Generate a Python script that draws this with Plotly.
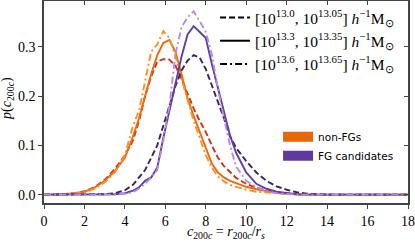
import plotly.graph_objects as go

c200 = [0, 0.5, 1, 1.5, 2, 2.5, 3, 3.5, 4, 4.4, 4.7, 5.0, 5.3, 5.6, 5.9, 6.2, 6.5, 6.8, 7.1, 7.4,
        7.7, 8.0, 8.3, 8.6, 8.9, 9.2, 9.5, 10, 10.5, 11, 11.5, 12, 12.5, 13, 14, 15, 16, 17, 18]

nonfg_lo = [0, 0, 0.001, 0.003, 0.007, 0.015, 0.03, 0.052, 0.08, 0.11, 0.15, 0.2, 0.24, 0.27, 0.275, 0.274, 0.262, 0.235, 0.205, 0.175,
            0.15, 0.127, 0.1, 0.075, 0.058, 0.045, 0.034, 0.022, 0.014, 0.009, 0.005, 0.003, 0.001, 0, 0, 0, 0, 0, 0]
nonfg_mid = [0, 0, 0.001, 0.003, 0.006, 0.014, 0.028, 0.048, 0.075, 0.118, 0.155, 0.2, 0.245, 0.283, 0.308, 0.314, 0.29, 0.245, 0.195, 0.16,
             0.127, 0.092, 0.063, 0.045, 0.035, 0.028, 0.023, 0.016, 0.011, 0.007, 0.004, 0.002, 0.001, 0, 0, 0, 0, 0, 0]
nonfg_hi = [0, 0, 0.001, 0.002, 0.005, 0.012, 0.025, 0.045, 0.08, 0.14, 0.17, 0.23, 0.29, 0.305, 0.332, 0.318, 0.28, 0.235, 0.19, 0.15,
            0.115, 0.08, 0.055, 0.037, 0.027, 0.02, 0.016, 0.01, 0.006, 0.004, 0.002, 0.001, 0, 0, 0, 0, 0, 0, 0]
fg_lo = [0, 0, 0, 0, 0, 0, 0.001, 0.003, 0.009, 0.02, 0.035, 0.05, 0.075, 0.1, 0.14, 0.18, 0.22, 0.252, 0.272, 0.283,
         0.278, 0.255, 0.222, 0.19, 0.155, 0.118, 0.095, 0.068, 0.045, 0.028, 0.017, 0.01, 0.005, 0.002, 0, 0, 0, 0, 0]
fg_mid = [0, 0, 0, 0, 0, 0, 0, 0.001, 0.003, 0.008, 0.015, 0.028, 0.035, 0.055, 0.115, 0.17, 0.225, 0.28, 0.325, 0.342,
          0.33, 0.318, 0.265, 0.215, 0.165, 0.12, 0.085, 0.045, 0.022, 0.012, 0.006, 0.003, 0.001, 0, 0, 0, 0, 0, 0]
fg_hi = [0, 0, 0, 0, 0, 0, 0, 0, 0.002, 0.005, 0.012, 0.022, 0.035, 0.05, 0.11, 0.18, 0.285, 0.34, 0.36, 0.372,
         0.352, 0.33, 0.285, 0.215, 0.155, 0.1, 0.057, 0.028, 0.015, 0.007, 0.003, 0.001, 0, 0, 0, 0, 0, 0, 0]

mass_labels = [
    "[10<sup>13.0</sup>, 10<sup>13.05</sup>] <i>h</i><sup>−1</sup>M<sub>⊙</sub>",
    "[10<sup>13.3</sup>, 10<sup>13.35</sup>] <i>h</i><sup>−1</sup>M<sub>⊙</sub>",
    "[10<sup>13.6</sup>, 10<sup>13.65</sup>] <i>h</i><sup>−1</sup>M<sub>⊙</sub>",
]
group_labels = ["non-FGs", "FG candidates"]
group_colors = ["#e8650a", "#5f3a9e"]

x_ticks = [0, 2, 4, 6, 8, 10, 12, 14, 16, 18]
y_ticks = [0.0, 0.1, 0.2, 0.3]

DASH = "6px,3px"
DASHDOT = "7px,3px,2px,3px"

series = [
    (nonfg_lo, "#cc3311", DASH),
    (nonfg_mid, "#ee6a0c", "solid"),
    (nonfg_hi, "#ff8f26", DASHDOT),
    (fg_lo, "#3e2163", DASH),
    (fg_mid, "#6040a8", "solid"),
    (fg_hi, "#b38ee6", DASHDOT),
]

fig = go.Figure()
for ys, col, dash in series:
    fig.add_trace(go.Scatter(x=c200, y=ys, mode="lines", showlegend=False,
                             line=dict(color=col, width=1.9, dash=dash)))

for lab, dash in zip(mass_labels, [DASH, "solid", DASHDOT]):
    fig.add_trace(go.Scatter(x=[None], y=[None], mode="lines", name=lab, legend="legend",
                             line=dict(color="black", width=2, dash=dash)))
for lab, col in zip(group_labels, group_colors):
    fig.add_trace(go.Scatter(x=[None], y=[None], mode="lines", name=lab, legend="legend2",
                             line=dict(color=col, width=11)))

serif = "Liberation Serif"
axcol = "#444444"
fig.update_layout(
    width=415, height=243,
    margin=dict(l=44, r=7, t=1, b=40, autoexpand=False),
    paper_bgcolor="white", plot_bgcolor="white",
    font=dict(family=serif, size=14, color="black"),
    xaxis=dict(range=[0, 18], tickvals=x_ticks, ticks="outside", ticklen=4, tickcolor=axcol,
               showline=True, linecolor=axcol, linewidth=1.5, showgrid=False, zeroline=False,
               mirror=True, tickfont=dict(family=serif, size=14), automargin=False),
    yaxis=dict(range=[-0.0169, 0.393], tickvals=y_ticks, ticktext=["0.0", "0.1", "0.2", "0.3"],
               ticks="outside", ticklen=4, tickcolor=axcol,
               showline=True, linecolor=axcol, linewidth=1.5, showgrid=False, zeroline=False,
               mirror=True, tickfont=dict(family=serif, size=14), automargin=False),
    xaxis2=dict(overlaying="x", side="top", range=[0, 18], tickvals=x_ticks, showticklabels=False,
                ticks="inside", ticklen=4, tickcolor=axcol, showgrid=False, zeroline=False),
    yaxis2=dict(overlaying="y", side="right", range=[-0.0169, 0.393], tickvals=y_ticks, showticklabels=False,
                ticks="inside", ticklen=4, tickcolor=axcol, showgrid=False, zeroline=False),
    legend=dict(x=0.47, y=1.0, xanchor="left", yanchor="top", bgcolor="rgba(0,0,0,0)",
                font=dict(family=serif, size=15.5), itemwidth=30, tracegroupgap=0),
    legend2=dict(x=0.643, y=0.4, xanchor="left", yanchor="top", bgcolor="rgba(0,0,0,0)",
                 font=dict(family="DejaVu Sans", size=10.5), itemwidth=30, tracegroupgap=0),
    annotations=[
        dict(text="<i>c</i><sub>200<i>c</i></sub> = <i>r</i><sub>200<i>c</i></sub>/<i>r<sub>s</sub></i>",
             xref="paper", yref="paper", x=0.5, y=-0.145, xanchor="center", yanchor="middle",
             showarrow=False, font=dict(family=serif, size=14)),
        dict(text="<i>p</i>(<i>c</i><sub>200<i>c</i></sub>)", textangle=-90,
             xref="paper", yref="paper", x=-0.099, y=0.52, xanchor="center", yanchor="middle",
             showarrow=False, font=dict(family=serif, size=14)),
    ],
)
fig.add_trace(go.Scatter(x=[None], y=[None], xaxis="x2", yaxis="y2", showlegend=False))

fig.write_html("out.html", post_script="document.body.style.margin='0';",
               config={"displayModeBar": False})
